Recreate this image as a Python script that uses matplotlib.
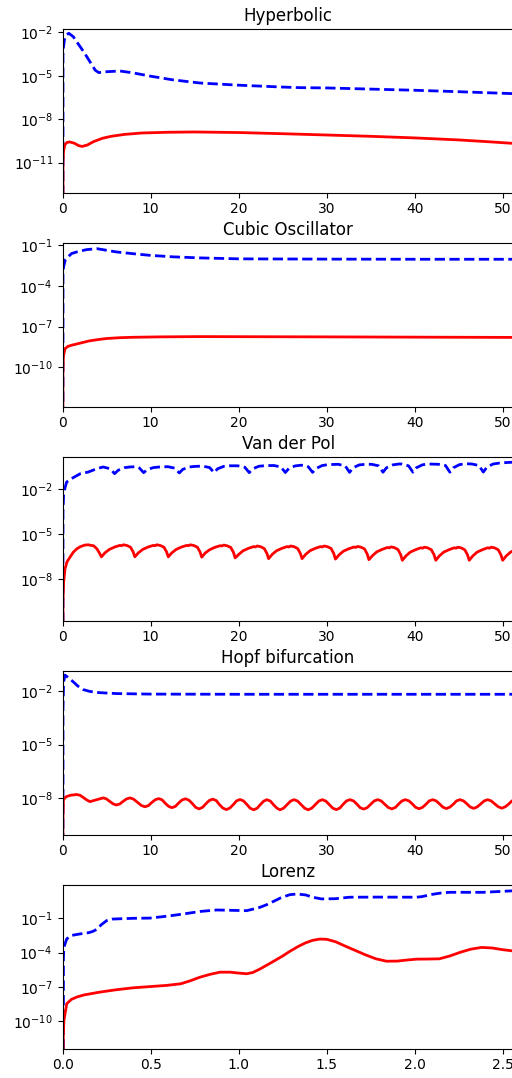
import numpy as np
import matplotlib
matplotlib.use("Agg")
import matplotlib.pyplot as plt
from matplotlib.ticker import NullLocator, FixedLocator

NEG = -np.inf  # error is exactly zero at t = 0

titles = ["Hyperbolic", "Cubic Oscillator", "Van der Pol", "Hopf bifurcation", "Lorenz"]

# ---- Hyperbolic (log10 of error) ----
hyp_blue_t = [0, 0.03, 0.2, 0.45, 0.7, 1.2, 2.5, 3.7, 4.1, 5.0, 6.5, 8.0, 10, 12.5, 15.6, 20, 25, 27, 30, 35, 40, 45, 51.5]
hyp_blue_log = [NEG, -3.3, -2.5, -2.15, -2.07, -2.3, -3.45, -4.62, -4.78, -4.72, -4.67, -4.8, -5.03, -5.28, -5.5,
                -5.65, -5.78, -5.82, -5.84, -5.92, -6.0, -6.1, -6.24]
hyp_red_t = [0, 0.03, 0.1, 0.25, 0.5, 0.8, 1.3, 1.8, 2.2, 2.8, 3.5, 4.5, 5.5, 7, 9, 12, 15, 20, 25, 30, 35, 40, 45, 48, 51.5]
hyp_red_log = [NEG, -11.0, -10.2, -9.75, -9.6, -9.57, -9.65, -9.82, -9.88, -9.78, -9.55, -9.32, -9.18, -9.05,
               -8.95, -8.9, -8.88, -8.92, -9.0, -9.09, -9.18, -9.29, -9.43, -9.54, -9.68]

# ---- Cubic Oscillator ----
cub_blue_t = [0, 0.03, 0.1, 0.3, 1.0, 1.6, 2.7, 3.9, 6.1, 8.0, 9.9, 12.5, 15.6, 20, 30, 40, 51.5]
cub_blue_log = [NEG, -3.1, -2.6, -2.06, -1.61, -1.49, -1.32, -1.25, -1.49, -1.62, -1.74, -1.85, -1.93, -2.0,
                -2.02, -2.03, -2.03]
cub_red_t = [0, 0.02, 0.08, 0.26, 0.6, 1.0, 1.5, 2.0, 3.0, 4.0, 5.0, 6.5, 8.0, 11, 15.6, 30, 40, 51.5]
cub_red_log = [NEG, -10.5, -9.2, -8.64, -8.46, -8.38, -8.3, -8.22, -8.06, -7.96, -7.88, -7.82, -7.79, -7.76,
               -7.74, -7.76, -7.78, -7.8]

# ---- Van der Pol ----
vdp_blue_t = [0, 0.03, 0.1, 0.26, 0.45, 1.0, 2.0, 2.9, 3.9, 4.6, 5.4, 5.9, 6.3, 7.0, 7.6, 8.4, 8.7, 9.2, 9.6,
              10.3, 11.0, 11.95, 12.75, 13.25, 13.65, 14.35, 15.05, 15.9, 16.7, 17.2, 17.6, 18.3, 19.0,
              19.9, 20.7, 21.2, 21.6, 22.3, 23.0, 24.0, 24.8, 25.3, 25.7, 26.4, 27.1, 27.6, 27.9, 28.4,
              28.8, 29.5, 30.2, 31.3, 32.1, 32.6, 33.0, 33.7, 34.4, 35.1, 35.9, 36.4, 36.8, 37.5, 38.2,
              38.5, 39.3, 39.8, 40.2, 40.9, 41.6, 42.7, 43.5, 44.0, 44.4, 45.1, 45.8, 46.5, 47.3, 47.8,
              48.2, 48.9, 49.6, 50.5, 51.5]
vdp_blue_log = [NEG, -3.5, -2.4, -1.9, -1.51, -1.28, -0.95, -0.84, -0.61, -0.5, -0.62, -0.95, -0.72, -0.55,
                -0.5, -0.48, -0.56, -0.88, -0.68, -0.54, -0.5, -0.48, -0.58, -0.9, -0.66, -0.5, -0.46,
                -0.44, -0.54, -0.88, -0.62, -0.46, -0.42, -0.42, -0.52, -0.88, -0.62, -0.45, -0.41,
                -0.4, -0.5, -0.87, -0.6, -0.43, -0.38, -0.4, -0.48, -0.86, -0.6, -0.4, -0.34,
                -0.32, -0.42, -0.86, -0.55, -0.36, -0.32, -0.32, -0.42, -0.85, -0.55, -0.36, -0.3,
                -0.3, -0.42, -0.85, -0.55, -0.35, -0.3, -0.32, -0.4, -0.85, -0.55, -0.34, -0.28,
                -0.3, -0.4, -0.84, -0.52, -0.3, -0.24, -0.2, -0.17]
vdp_red_t = [0, 0.03, 0.1, 0.26, 0.5, 0.83, 1.2, 1.6, 2.0, 2.5, 2.9, 3.2, 3.5, 3.9, 4.2, 4.4,
             4.8, 5.3, 5.9, 6.5, 6.7, 6.9, 7.3, 7.7, 8.0, 8.2,
             8.6, 9.1, 9.7, 10.3, 10.5, 10.7, 11.1, 11.5, 11.8, 12.0,
             12.4, 12.9, 13.5, 14.1, 14.3, 14.5, 14.9, 15.3, 15.6, 15.8,
             16.2, 16.7, 17.3, 17.9, 18.1, 18.3, 18.7, 19.1, 19.4, 19.6,
             20.0, 20.5, 21.1, 21.7, 21.9, 22.1, 22.5, 22.9, 23.2, 23.4,
             23.8, 24.3, 24.9, 25.5, 25.7, 25.9, 26.3, 26.7, 27.0, 27.2,
             27.6, 28.1, 28.7, 29.3, 29.5, 29.7, 30.1, 30.5, 30.8, 31.0,
             31.4, 31.9, 32.5, 33.1, 33.3, 33.5, 33.9, 34.3, 34.6, 34.8,
             35.2, 35.7, 36.3, 36.9, 37.1, 37.3, 37.7, 38.1, 38.4, 38.6,
             39.0, 39.5, 40.1, 40.7, 40.9, 41.1, 41.5, 41.9, 42.2, 42.4,
             42.8, 43.3, 43.9, 44.5, 44.7, 44.9, 45.3, 45.7, 46.0, 46.2,
             46.6, 47.1, 47.7, 48.3, 48.5, 48.7, 49.1, 49.5, 49.8, 50.0,
             50.4, 50.9, 51.5]
vdp_red_log = [NEG, -9.5, -8.3, -7.33, -6.85, -6.55, -6.22, -5.99, -5.85, -5.74, -5.72, -5.76, -5.78, -6.0, -6.3, -6.53,
               -6.26, -6.03, -5.87, -5.76, -5.78, -5.72, -5.77, -5.88, -6.19, -6.53,
               -6.26, -6.03, -5.87, -5.76, -5.78, -5.72, -5.77, -5.88, -6.19, -6.53,
               -6.26, -6.03, -5.87, -5.76, -5.78, -5.72, -5.77, -5.88, -6.19, -6.55,
               -6.27, -6.05, -5.89, -5.78, -5.80, -5.74, -5.79, -5.90, -6.22, -6.60,
               -6.37, -6.12, -5.96, -5.84, -5.87, -5.80, -5.85, -5.97, -6.29, -6.65,
               -6.37, -6.12, -5.96, -5.84, -5.87, -5.80, -5.85, -5.97, -6.29, -6.65,
               -6.37, -6.12, -5.96, -5.84, -5.87, -5.80, -5.85, -5.97, -6.30, -6.68,
               -6.40, -6.15, -5.99, -5.87, -5.90, -5.83, -5.88, -6.00, -6.33, -6.72,
               -6.45, -6.19, -6.03, -5.90, -5.93, -5.86, -5.91, -6.04, -6.37, -6.76,
               -6.47, -6.21, -6.05, -5.92, -5.95, -5.88, -5.93, -6.06, -6.39, -6.76,
               -6.47, -6.21, -6.05, -5.92, -5.95, -5.88, -5.93, -6.06, -6.39, -6.76,
               -6.47, -6.21, -6.05, -5.92, -5.95, -5.88, -5.93, -6.06, -6.39, -6.76,
               -6.47, -6.21, -6.05]

# ---- Hopf bifurcation ----
hopf_blue_t = [0, 0.03, 0.1, 0.26, 0.6, 1.2, 1.7, 2.3, 3.0, 3.9, 6.1, 10, 20, 35, 51.5]
hopf_blue_log = [NEG, -3.0, -1.5, -1.09, -1.22, -1.47, -1.7, -1.9, -2.0, -2.07, -2.13, -2.16, -2.17, -2.17, -2.17]
hopf_red_t = [0, 0.02, 0.08, 0.4, 0.9, 1.6, 2.0, 2.35, 2.75, 3.1, 3.45, 3.85, 4.25, 4.6, 4.95, 5.35, 5.75,
              6.1, 6.5, 6.85, 7.25, 7.65, 8.05, 8.5, 8.95, 9.35, 9.75, 10.1, 10.5, 10.9, 11.3, 11.65,
              12.05, 12.4, 12.8, 13.15, 13.55, 13.95, 14.35, 14.75, 15.1, 15.5, 15.9, 16.25, 16.65,
              17.05, 17.45, 17.8, 18.2, 18.6, 19.0, 19.4, 19.75, 20.15, 20.55, 20.95, 21.3, 21.7,
              22.1, 22.45, 22.85, 23.2, 23.6, 23.95, 24.35, 24.7, 25.1, 25.5, 25.9, 26.3, 26.7,
              27.1, 27.5, 27.9, 28.3, 28.7, 29.1, 29.5, 29.9, 30.3, 30.7, 31.1, 31.5, 31.85, 32.25,
              32.65, 33.05, 33.45, 33.8, 34.2, 34.6, 35.0, 35.4, 35.8, 36.2, 36.6, 37.0, 37.4, 37.8,
              38.15, 38.55, 38.95, 39.35, 39.75, 40.1, 40.5, 40.9, 41.3, 41.65, 42.05, 42.45, 42.85,
              43.2, 43.6, 44.0, 44.4, 44.75, 45.15, 45.55, 45.95, 46.3, 46.7, 47.1, 47.5, 47.9, 48.3,
              48.7, 49.1, 49.5, 49.9, 50.3, 50.7, 51.05, 51.45]
hopf_red_log = [NEG, -9.3, -8.1, -7.93, -7.85, -7.81, -7.86, -7.98, -8.12, -8.21, -8.16, -8.1, -8.04, -8.0,
                -8.05, -8.2, -8.34, -8.4, -8.34, -8.2, -8.06, -8.0, -8.07, -8.25, -8.43, -8.5, -8.43,
                -8.27, -8.11, -8.04, -8.11, -8.3, -8.48, -8.55, -8.48, -8.3, -8.12, -8.05, -8.13,
                -8.33, -8.53, -8.62, -8.53, -8.34, -8.15, -8.07, -8.15, -8.37, -8.57, -8.66, -8.57,
                -8.37, -8.17, -8.09, -8.17, -8.38, -8.58, -8.67, -8.58, -8.38, -8.18, -8.1, -8.18,
                -8.38, -8.58, -8.67, -8.58, -8.38, -8.18, -8.1, -8.18, -8.38, -8.58, -8.67, -8.58,
                -8.38, -8.18, -8.1, -8.18, -8.38, -8.58, -8.66, -8.57, -8.37, -8.17, -8.1, -8.17,
                -8.36, -8.55, -8.63, -8.55, -8.36, -8.17, -8.1, -8.17, -8.36, -8.54, -8.62, -8.54,
                -8.36, -8.17, -8.1, -8.17, -8.35, -8.53, -8.61, -8.53, -8.35, -8.17, -8.1, -8.17,
                -8.35, -8.52, -8.6, -8.52, -8.35, -8.17, -8.1, -8.17, -8.34, -8.51, -8.59, -8.51,
                -8.34, -8.17, -8.1, -8.17, -8.34, -8.5, -8.58, -8.5, -8.34, -8.17, -8.1]

# ---- Lorenz ----
lor_blue_t = [0, 0.004, 0.007, 0.023, 0.05, 0.098, 0.15, 0.174, 0.195, 0.22, 0.25, 0.28, 0.307, 0.4, 0.496,
              0.6, 0.685, 0.78, 0.875, 0.96, 1.045, 1.08, 1.12, 1.16, 1.2, 1.24, 1.29, 1.33, 1.38, 1.42,
              1.47, 1.55, 1.63, 1.8, 2.01, 2.04, 2.1, 2.15, 2.2, 2.39, 2.57]
lor_blue_log = [NEG, -4.5, -3.53, -2.8, -2.5, -2.37, -2.25, -2.13, -1.95, -1.55, -1.2, -1.07, -1.05, -1.0, -0.98,
                -0.8, -0.62, -0.4, -0.27, -0.3, -0.33, -0.2, -0.04, 0.2, 0.5, 0.8, 1.07, 1.13, 1.05, 0.85,
                0.7, 0.72, 0.85, 0.86, 0.85, 0.9, 1.1, 1.22, 1.28, 1.28, 1.42]
lor_red_t = [0, 0.003, 0.007, 0.023, 0.05, 0.08, 0.12, 0.21, 0.3, 0.40, 0.59, 0.67, 0.72, 0.78, 0.84, 0.894,
             0.95, 1.0, 1.045, 1.08, 1.12, 1.16, 1.2, 1.25, 1.29, 1.34, 1.38, 1.42, 1.46, 1.50, 1.55, 1.6,
             1.66, 1.72, 1.78, 1.84, 1.9, 1.96, 2.01, 2.07, 2.14, 2.2, 2.26, 2.32, 2.38, 2.44, 2.5, 2.57]
lor_red_log = [NEG, -11.5, -9.94, -8.48, -8.1, -7.9, -7.72, -7.47, -7.27, -7.09, -6.88, -6.74, -6.5, -6.16,
               -5.9, -5.72, -5.72, -5.8, -5.86, -5.75, -5.45, -5.1, -4.75, -4.3, -3.9, -3.45, -3.15, -2.93,
               -2.82, -2.84, -3.05, -3.4, -3.8, -4.2, -4.55, -4.76, -4.75, -4.65, -4.58, -4.57, -4.55,
               -4.3, -3.97, -3.7, -3.55, -3.6, -3.75, -3.88]

series = [
    (hyp_blue_t, hyp_blue_log, hyp_red_t, hyp_red_log),
    (cub_blue_t, cub_blue_log, cub_red_t, cub_red_log),
    (vdp_blue_t, vdp_blue_log, vdp_red_t, vdp_red_log),
    (hopf_blue_t, hopf_blue_log, hopf_red_t, hopf_red_log),
    (lor_blue_t, lor_blue_log, lor_red_t, lor_red_log),
]
ylims_log = [(-13.06, -1.77), (-12.9, -0.83), (-10.8, 0.17), (-10.06, -0.86), (-12.41, 1.92)]
yticks_exp = [[-11, -8, -5, -2], [-10, -7, -4, -1], [-8, -5, -2], [-8, -5, -2], [-10, -7, -4, -1]]
xmax = [51.23, 51.23, 51.23, 51.23, 2.5614]
xticks = [[0, 10, 20, 30, 40, 50]] * 4 + [[0.0, 0.5, 1.0, 1.5, 2.0, 2.5]]

W, H = 512, 1078
fig = plt.figure(figsize=(W / 100, H / 100), dpi=100)
tops = [29, 243, 457, 671, 885]
ax_h = 163.5
left_px, right_px = 62.7, 513.5

for i in range(5):
    bt, bl, rt, rl = series[i]
    ax = fig.add_axes([left_px / W, 1 - (tops[i] + ax_h) / H, (right_px - left_px) / W, ax_h / H])
    ax.set_yscale("log")
    ax.plot(bt, 10.0 ** np.array(bl), "b--", lw=2)
    ax.plot(rt, 10.0 ** np.array(rl), "r-", lw=2)
    ax.set_xlim(0, xmax[i])
    ax.set_ylim(10.0 ** ylims_log[i][0], 10.0 ** ylims_log[i][1])
    ax.yaxis.set_major_locator(FixedLocator([10.0 ** e for e in yticks_exp[i]]))
    ax.yaxis.set_minor_locator(NullLocator())
    ax.set_xticks(xticks[i])
    ax.set_title(titles[i], fontsize=12)

fig.savefig("out.png", dpi=100)
